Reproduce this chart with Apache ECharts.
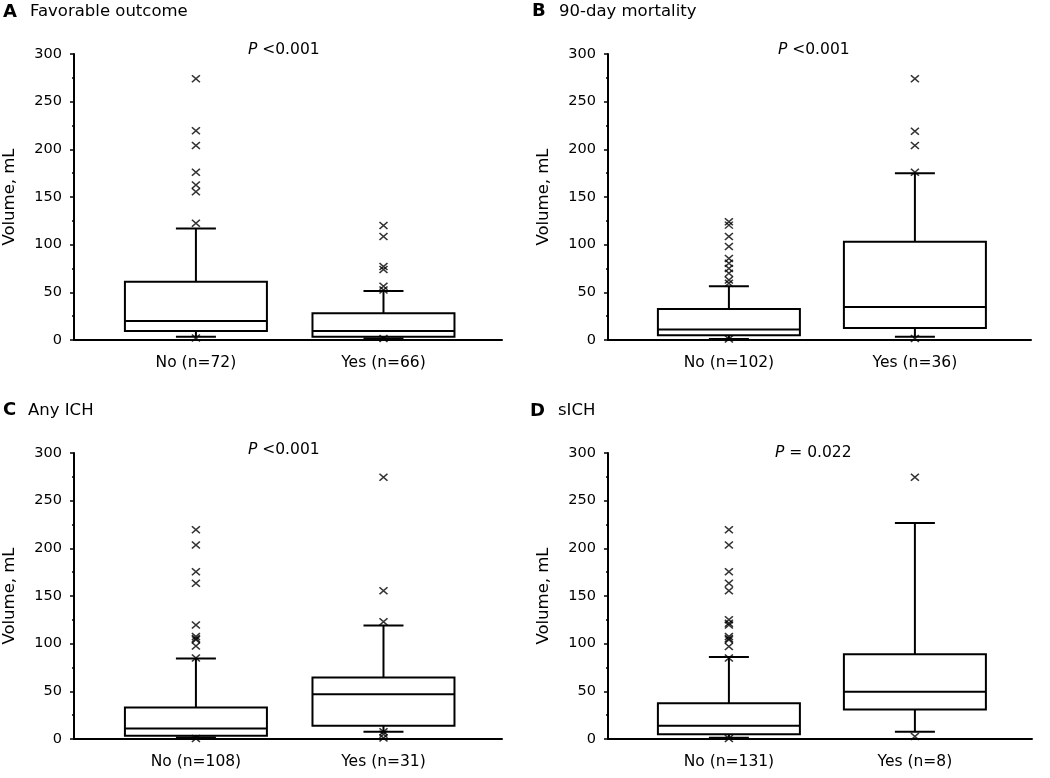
<!DOCTYPE html>
<html>
<head>
<meta charset="utf-8">
<script src="https://cdn.jsdelivr.net/npm/echarts@6/dist/echarts.min.js"></script>
<style>
html,body{margin:0;padding:0;background:#fff;}
#chart{width:1050px;height:778px;}
</style>
</head>
<body>
<div id="chart"></div>
<script>
// ---------- DATA ----------
const panelLetters = ['A', 'B', 'C', 'D'];
const panelTitles = ['Favorable outcome', '90-day mortality', 'Any ICH', 'sICH'];
const pValueTexts = [' <0.001', ' <0.001', ' <0.001', ' = 0.022'];
const yTicks = [0, 50, 100, 150, 200, 250, 300];
const yAxisTitle = 'Volume, mL';

const categoriesA = ['No (n=72)', 'Yes (n=66)'];
const categoriesB = ['No (n=102)', 'Yes (n=36)'];
const categoriesC = ['No (n=108)', 'Yes (n=31)'];
const categoriesD = ['No (n=131)', 'Yes (n=8)'];

// box stats: [lower whisker, Q1, median, Q3, upper whisker]
const boxA = [[3.5, 9.5, 20, 61, 117], [1.5, 3.5, 9.5, 28, 51.5]];
const boxB = [[1, 4.9, 11, 32.5, 56.5], [3.5, 12.5, 34.5, 103, 175]];
const boxC = [[1.7, 3.5, 11, 33, 84.5], [7.7, 14, 47, 64.5, 119]];
const boxD = [[1.4, 4.9, 14, 37.5, 86], [7.7, 31, 49.5, 89, 226.5]];

// outliers (x marks)
const outliersA = [[274, 219.5, 204, 176, 162.5, 155.5, 122.5, 2], [120, 108.5, 77, 74, 56.5, 52.5, 1.5]];
const outliersB = [[124, 120.5, 108.5, 98, 85.5, 80.5, 75, 70, 63, 59.5, 1], [274, 219, 204, 176, 1.5]];
const outliersC = [[219.5, 203.5, 175.5, 163.5, 119.5, 107.5, 105.5, 104, 97.5, 85, 0.5], [274.5, 155.5, 123, 7.5, 5, 1]];
const outliersD = [[219.5, 203.5, 175.5, 163.5, 155.5, 125, 121.5, 119.5, 107.5, 105.5, 104, 97, 85, 0.5], [274.5, 2.5]];

// ---------- LAYOUT ----------
const FONT = 'DejaVu Sans';
const categoriesAll = [categoriesA, categoriesB, categoriesC, categoriesD];
const boxesAll = [boxA, boxB, boxC, boxD];
const outliersAll = [outliersA, outliersB, outliersC, outliersD];

const grids = [
  {left: 73, top: 54, width: 429, height: 286, spacing: 188},
  {left: 608, top: 54, width: 423, height: 286, spacing: 186},
  {left: 73, top: 453, width: 429, height: 286, spacing: 188},
  {left: 608, top: 453, width: 424, height: 286, spacing: 186}
];
const letterPos = [[3, 12], [532, 11.5], [3, 410.5], [530, 411]];
const titlePos = [[30, 12], [559, 12], [28, 410.5], [558, 411]];
const pPos = [[248, 50], [778, 50], [248, 449.5], [775, 452.5]];

const BOX_HALF = 71, CAP_HALF = 20, XMIN = 0.35;

const option = {
  animation: false,
  backgroundColor: '#fff',
  grid: [], xAxis: [], yAxis: [], series: [], graphic: []
};

grids.forEach((g, i) => {
  option.grid.push({left: g.left, top: g.top, width: g.width, height: g.height, containLabel: false});
  const cats = categoriesAll[i];
  option.xAxis.push({
    type: 'value', gridIndex: i, min: XMIN, max: +(XMIN + g.width / g.spacing).toFixed(4), interval: 0.05,
    axisLine: {show: true, lineStyle: {color: '#000', width: 2}},
    axisTick: {show: false}, splitLine: {show: false},
    axisLabel: {
      color: '#000', fontFamily: FONT, fontSize: 15.5, margin: 15,
      formatter: v => Math.abs(v - 1) < 1e-6 ? cats[0] : (Math.abs(v - 2) < 1e-6 ? cats[1] : '')
    }
  });
  option.yAxis.push({
    type: 'value', gridIndex: i, min: yTicks[0], max: yTicks[yTicks.length - 1], interval: yTicks[1] - yTicks[0],
    name: yAxisTitle, nameLocation: 'middle', nameGap: 56,
    nameTextStyle: {color: '#000', fontFamily: FONT, fontSize: 16.5},
    axisLine: {show: true, lineStyle: {color: '#000', width: 2}},
    axisTick: {show: true, length: 4, lineStyle: {color: '#000', width: 1.5}},
    minorTick: {show: true, splitNumber: 2, length: 2, lineStyle: {color: '#000', width: 1.5}},
    splitLine: {show: false},
    axisLabel: {color: '#000', fontFamily: FONT, fontSize: 14.5, margin: 12}
  });
  const boxes = boxesAll[i];
  option.series.push({
    type: 'custom', xAxisIndex: i, yAxisIndex: i, z: 2,
    data: boxes.map((b, k) => [k + 1].concat(b)),
    encode: {x: 0, y: [1, 2, 3, 4, 5]},
    renderItem: function (params, api) {
      const x = api.value(0);
      const lo = api.coord([x, api.value(1)]);
      const q1 = api.coord([x, api.value(2)]);
      const md = api.coord([x, api.value(3)]);
      const q3 = api.coord([x, api.value(4)]);
      const hi = api.coord([x, api.value(5)]);
      const cx = lo[0];
      const ls = {stroke: '#000', lineWidth: 2, fill: null};
      return {
        type: 'group',
        children: [
          {type: 'line', shape: {x1: cx, y1: q3[1], x2: cx, y2: hi[1]}, style: ls},
          {type: 'line', shape: {x1: cx - CAP_HALF, y1: hi[1], x2: cx + CAP_HALF, y2: hi[1]}, style: ls},
          {type: 'line', shape: {x1: cx, y1: q1[1], x2: cx, y2: lo[1]}, style: ls},
          {type: 'line', shape: {x1: cx - CAP_HALF, y1: lo[1], x2: cx + CAP_HALF, y2: lo[1]}, style: ls},
          {type: 'rect', shape: {x: cx - BOX_HALF, y: q3[1], width: 2 * BOX_HALF, height: q1[1] - q3[1]},
            style: {stroke: '#000', lineWidth: 2, fill: '#fff'}},
          {type: 'line', shape: {x1: cx - BOX_HALF, y1: md[1], x2: cx + BOX_HALF, y2: md[1]}, style: ls}
        ]
      };
    }
  });
  const pts = [];
  outliersAll[i].forEach((arr, k) => arr.forEach(v => pts.push([k + 1, v])));
  option.series.push({
    type: 'scatter', xAxisIndex: i, yAxisIndex: i, z: 3,
    symbol: 'path://M0,0L10,10M10,0L0,10', symbolSize: [8, 7],
    itemStyle: {color: 'rgba(0,0,0,0)', borderColor: '#000', borderWidth: 1.5},
    data: pts
  });
  option.graphic.push({
    type: 'text', x: letterPos[i][0], y: letterPos[i][1],
    style: {text: panelLetters[i], font: 'bold 18px "' + FONT + '"', fill: '#000', textVerticalAlign: 'middle'}
  });
  option.graphic.push({
    type: 'text', x: titlePos[i][0], y: titlePos[i][1],
    style: {text: panelTitles[i], font: '16.5px "' + FONT + '"', fill: '#000', textVerticalAlign: 'middle'}
  });
  option.graphic.push({
    type: 'text', x: pPos[i][0], y: pPos[i][1],
    style: {
      text: '{i|P}{n|' + pValueTexts[i] + '}', textVerticalAlign: 'middle',
      rich: {
        i: {fontFamily: FONT, fontStyle: 'italic', fontSize: 15.5, fill: '#000', color: '#000'},
        n: {fontFamily: FONT, fontSize: 15.5, fill: '#000', color: '#000'}
      }
    }
  });
});

const chart = echarts.init(document.getElementById('chart'), null, {renderer: 'canvas'});
chart.setOption(option);
</script>
</body>
</html>
